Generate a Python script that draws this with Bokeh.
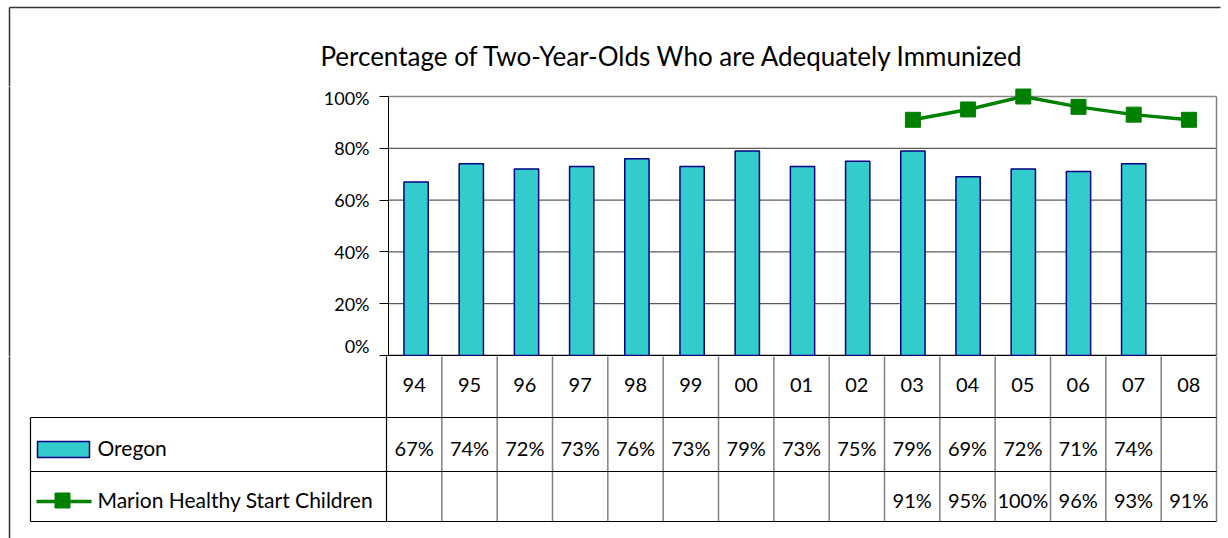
from bokeh.plotting import figure
from bokeh.layouts import column, row
from bokeh.models import Range1d, FixedTicker, LinearAxis
from bokeh.core.properties import value
from bokeh.embed import file_html
from bokeh.resources import INLINE

# ---------------- data ----------------
years = ["94", "95", "96", "97", "98", "99", "00", "01", "02", "03", "04", "05", "06", "07", "08"]
oregon = [67, 74, 72, 73, 76, 73, 79, 73, 75, 79, 69, 72, 71, 74, None]
marion = [None, None, None, None, None, None, None, None, None, 91, 95, 100, 96, 93, 91]
y_ticks = [0, 20, 40, 60, 80, 100]
title_text = "Percentage of Two-Year-Olds Who are Adequately Immunized"
series_names = ["Oregon", "Marion Healthy Start Children"]

FONT = "Lato"
BAR_FILL = "#33CCCC"
BAR_LINE = "#000080"
LINE_COL = "#008000"
BORDER = "#333333"

W, H = 1228, 538
COLW = 830 / 15.0          # pixel width of one year column
PX_PER_UNIT = 259.0        # pixels for 100 %
n = len(years)


def xd(px):
    """page pixel -> column coordinate"""
    return -0.5 + (px - 386) / COLW


def blank(fig):
    fig.outline_line_color = None
    fig.xgrid.visible = False
    fig.ygrid.visible = False
    fig.background_fill_color = "white"
    fig.border_fill_color = "white"
    return fig


# ---------------- title strip ----------------
c = blank(figure(width=W, height=86, output_backend="svg", toolbar_location=None,
                 x_range=Range1d(0, W), y_range=Range1d(86, 0),
                 min_border=0, x_axis_location=None, y_axis_location=None))
c.segment(x0=[9, 9], y0=[7, 7], x1=[1220, 9], y1=[7, 95], line_color=BORDER, line_width=1.5)
c.text(x=[672], y=[55], text=[title_text], text_font=value(FONT), text_font_size="26px",
       text_align="center", text_baseline="middle", text_color="black")

# ---------------- left spacer with frame border ----------------
lw = 320
l = blank(figure(width=lw, height=270, output_backend="svg", toolbar_location=None,
                 x_range=Range1d(0, lw), y_range=Range1d(356, 86),
                 min_border=0, x_axis_location=None, y_axis_location=None))
l.segment(x0=[9], y0=[76], x1=[9], y1=[366], line_color=BORDER, line_width=1.5)

# ---------------- chart ----------------
a = blank(figure(width=W - lw, height=270, output_backend="svg", toolbar_location=None,
                 x_range=Range1d(xd(386), xd(1218)),
                 y_range=Range1d(-1 / PX_PER_UNIT, 1 + 10 / PX_PER_UNIT),
                 min_border_left=386 - lw, min_border_right=W - 1218,
                 min_border_top=0, min_border_bottom=0,
                 x_axis_location=None, y_axis_location=None))

yaxis = LinearAxis(ticker=FixedTicker(ticks=[t / 100 for t in y_ticks]),
                   bounds=(-1 / PX_PER_UNIT, 1.0))
yaxis.major_label_overrides = {t / 100: f"{t}%" for t in y_ticks}
yaxis.major_label_text_font = FONT
yaxis.major_label_text_font_size = "18px"
yaxis.major_label_text_color = "black"
yaxis.major_label_standoff = 10
yaxis.major_tick_out = 9
yaxis.major_tick_in = 0
yaxis.minor_tick_line_color = None
yaxis.axis_line_color = "black"
yaxis.major_tick_line_color = "black"
a.add_layout(yaxis, "left")

grid_y = [t / 100 for t in y_ticks if 0 < t < 100]
a.segment(x0=[-0.5] * len(grid_y), x1=[n - 0.5] * len(grid_y), y0=grid_y, y1=grid_y,
          line_color="#333333", line_width=1)
a.segment(x0=[-0.5], x1=[n - 0.5], y0=[1.0], y1=[1.0], line_color="#888888", line_width=1.5)
a.segment(x0=[-0.5], x1=[n - 0.5], y0=[0.0], y1=[0.0], line_color="black", line_width=1.5)
a.segment(x0=[n - 0.5], x1=[n - 0.5], y0=[1.0], y1=[-1 / PX_PER_UNIT], line_color="#808080", line_width=1.5)

bx = [i for i, v in enumerate(oregon) if v is not None]
bt = [oregon[i] / 100 for i in bx]
a.vbar(x=bx, top=bt, bottom=0, width=0.44, fill_color=BAR_FILL, line_color=BAR_LINE, line_width=1.5)

lx = [i for i, v in enumerate(marion) if v is not None]
ly = [marion[i] / 100 for i in lx]
a.line(lx, ly, line_color=LINE_COL, line_width=3.5)
a.scatter(lx, ly, marker="square", size=15, fill_color=LINE_COL, line_color=LINE_COL)

# ---------------- data table ----------------
b = blank(figure(width=W, height=H - 356, output_backend="svg", toolbar_location=None,
                 x_range=Range1d(xd(0), xd(W)), y_range=Range1d(H, 356),
                 min_border=0, x_axis_location=None, y_axis_location=None))
# outer frame left border
b.segment(x0=[xd(9)], y0=[346], x1=[xd(9)], y1=[H + 10], line_color=BORDER, line_width=1.5)
# vertical separators
vx = [i + 0.5 for i in range(n)]
b.segment(x0=vx, x1=vx, y0=[350] * n, y1=[521] * n, line_color="#808080", line_width=1.5)
b.segment(x0=[-0.5, xd(30)], x1=[-0.5, xd(30)], y0=[350, 417], y1=[521, 521],
          line_color="black", line_width=1.2)
# horizontal lines
hy = [417, 471, 521]
b.segment(x0=[xd(30)] * 3, x1=[n - 0.5] * 3, y0=hy, y1=hy, line_color="black", line_width=1.2)

ts = dict(text_font=value(FONT), text_font_size="20px", text_align="center",
          text_baseline="middle", text_color="black")
b.text(x=list(range(n)), y=[384] * n, text=years, **ts)
b.text(x=list(range(n)), y=[447] * n,
       text=[f"{v}%" if v is not None else "" for v in oregon], **ts)
b.text(x=list(range(n)), y=[499] * n,
       text=[f"{v}%" if v is not None else "" for v in marion], **ts)

# legend cells
b.quad(left=[xd(37)], right=[xd(89)], top=[441], bottom=[457],
       fill_color=BAR_FILL, line_color=BAR_LINE, line_width=1.5)
b.segment(x0=[xd(36)], x1=[xd(91)], y0=[501], y1=[501], line_color=LINE_COL, line_width=3.5)
b.scatter(x=[xd(62)], y=[500], marker="square", size=15, fill_color=LINE_COL, line_color=LINE_COL)
b.text(x=[xd(97)] * 2, y=[447, 499], text=series_names, text_font=value(FONT),
       text_font_size="21px", text_align="left", text_baseline="middle", text_color="black")

layout = column(c, row(l, a), b)
open("out.html", "w").write(file_html(layout, INLINE))
